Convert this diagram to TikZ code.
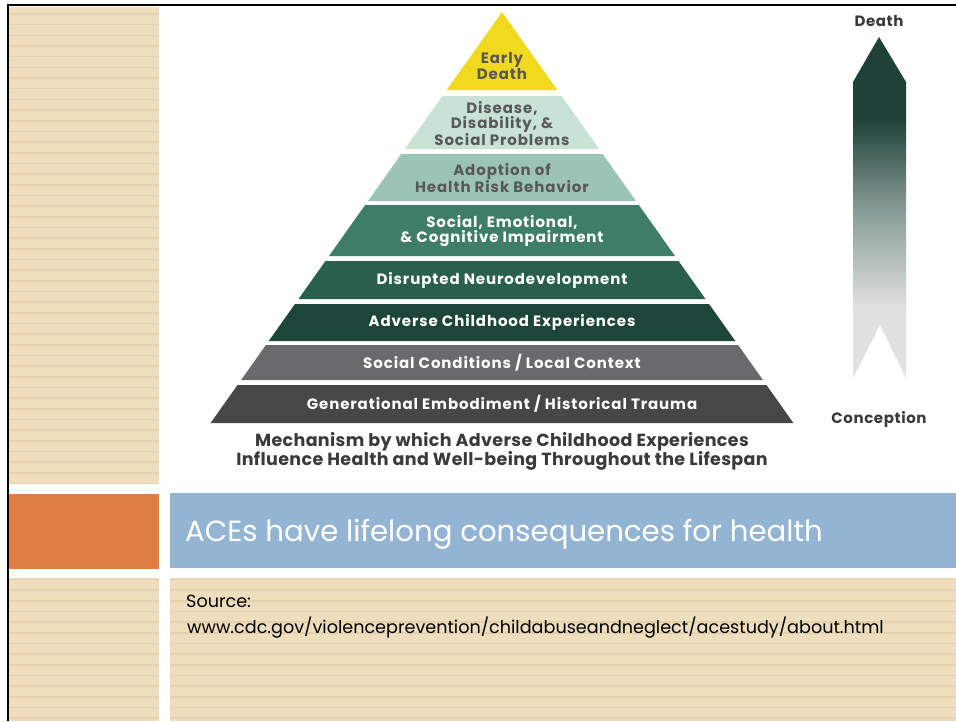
\documentclass[tikz,border=0pt]{standalone}
\usepackage{fontspec}
\setmainfont{Poppins}

\definecolor{tanbase}{RGB}{238,222,190}
\definecolor{tanline}{RGB}{228,210,172}
\definecolor{accentorange}{RGB}{221,126,69}
\definecolor{titleblue}{RGB}{147,180,210}
\definecolor{bandA}{RGB}{240,217,30}
\definecolor{bandB}{RGB}{200,226,214}
\definecolor{bandC}{RGB}{156,196,182}
\definecolor{bandD}{RGB}{62,125,104}
\definecolor{bandE}{RGB}{42,95,78}
\definecolor{bandF}{RGB}{30,69,57}
\definecolor{bandG}{RGB}{106,106,108}
\definecolor{bandH}{RGB}{71,71,71}
\definecolor{labelgrey}{RGB}{88,88,88}
\definecolor{captiongrey}{RGB}{58,58,58}
\definecolor{arrowdark}{RGB}{31,66,56}
\definecolor{arrowmid}{RGB}{140,160,154}
\definecolor{arrowlight}{RGB}{225,225,225}

% life-course arrow: light at the bottom, dark green at the top
\pgfdeclareverticalshading{lifespan}{100bp}{%
  color(0bp)=(arrowlight); color(25bp)=(arrowlight); color(35bp)=(arrowlight);
  color(49bp)=(arrowmid); color(63bp)=(arrowdark); color(100bp)=(arrowdark)}

% pyramid edge x at height y (apex at y=12, centre x=502)
\newcommand\pyrx[2]{{502#1(#2-12)*0.709}}
\newcommand\pyrband[3]{%
  \fill[#3] (\pyrx{-}{#1},#1) -- (\pyrx{+}{#1},#1) -- (\pyrx{+}{#2},#2) -- (\pyrx{-}{#2},#2) -- cycle;}

% striped tan panel
\newcommand\tanpanel[4]{%
  \begin{scope}
    \clip (#1,#2) rectangle (#3,#4);
    \fill[tanbase] (#1,#2) rectangle (#3,#4);
    \foreach \k in {0,...,67}
      \draw[tanline, line width=1.6pt] (#1,{14+10.67*\k}) -- (#3,{14+10.67*\k});
  \end{scope}}

\newcommand\bandfont{\fontsize{15}{15.5}\selectfont\bfseries\addfontfeatures{LetterSpace=6}}

\begin{document}
\begin{tikzpicture}[x=1pt,y=-1pt,
  darklabel/.style={text=labelgrey, align=center, font=\bandfont},
  lightlabel/.style={text=white, align=center, font=\bandfont},
  sidelabel/.style={text=captiongrey, font=\fontsize{15}{16}\selectfont\bfseries\addfontfeatures{LetterSpace=4}}]
\useasboundingbox (0,0) rectangle (956,721);
\fill[white] (0,0) rectangle (956,721);

% slide panels
\tanpanel{9}{7}{159}{484}
\tanpanel{9}{578}{159}{721}
\tanpanel{170}{578}{956}{721}
\fill[accentorange] (9,494) rectangle (159,569);
\fill[titleblue] (170,493) rectangle (956,568);

% slide frame
\draw[line width=2pt] (8,721) -- (8,5) -- (956,5);

% pyramid
\pyrband{12}{90}{bandA}
\pyrband{96}{149}{bandB}
\pyrband{154}{201}{bandC}
\pyrband{205}{256}{bandD}
\pyrband{261}{299}{bandE}
\pyrband{304}{341}{bandF}
\pyrband{345}{380}{bandG}
\pyrband{385}{423}{bandH}

\node[darklabel] (early) at (502,66) {Early\\Death};
\node[darklabel] (disease) at (502,123.5) {Disease,\\Disability, \&\\Social Problems};
\node[darklabel] (adoption) at (502,178) {Adoption of\\Health Risk Behavior};
\node[lightlabel] (impair) at (502,231) {Social, Emotional,\\\& Cognitive Impairment};
\node[lightlabel] (neuro) at (502,280) {Disrupted Neurodevelopment};
\node[lightlabel] (aces) at (502,322.5) {Adverse Childhood Experiences};
\node[lightlabel] (social) at (502,362.5) {Social Conditions / Local Context};
\node[lightlabel] (trauma) at (502,404) {Generational Embodiment / Historical Trauma};

\node[text=captiongrey, align=center, font=\fontsize{17.5}{15.5}\selectfont\bfseries\addfontfeatures{LetterSpace=2}] (caption) at (502,451.5)
  {Mechanism by which Adverse Childhood Experiences\\Influence Health and Well-being Throughout the Lifespan};

% life-course arrow
\shade[shading=lifespan] (879,37) -- (906,82) -- (906,378) -- (880,325) -- (853,378) -- (853,82) -- cycle;
\node[sidelabel] (death) at (879,21) {Death};
\node[sidelabel] (conception) at (879,419) {Conception};

% slide texts
\node[anchor=base west, inner sep=0, text=white, font=\fontsize{29.2}{34}\selectfont] (title) at (185,541)
  {ACEs have lifelong consequences for health};
\node[anchor=base west, inner sep=0, font=\fontsize{17.6}{20}\selectfont] (source) at (186,607) {Source:};
\node[anchor=base west, inner sep=0, font=\fontsize{17.6}{20}\selectfont] (url) at (187,633)
  {www.cdc.gov/violenceprevention/childabuseandneglect/acestudy/about.html};
\end{tikzpicture}
\end{document}
